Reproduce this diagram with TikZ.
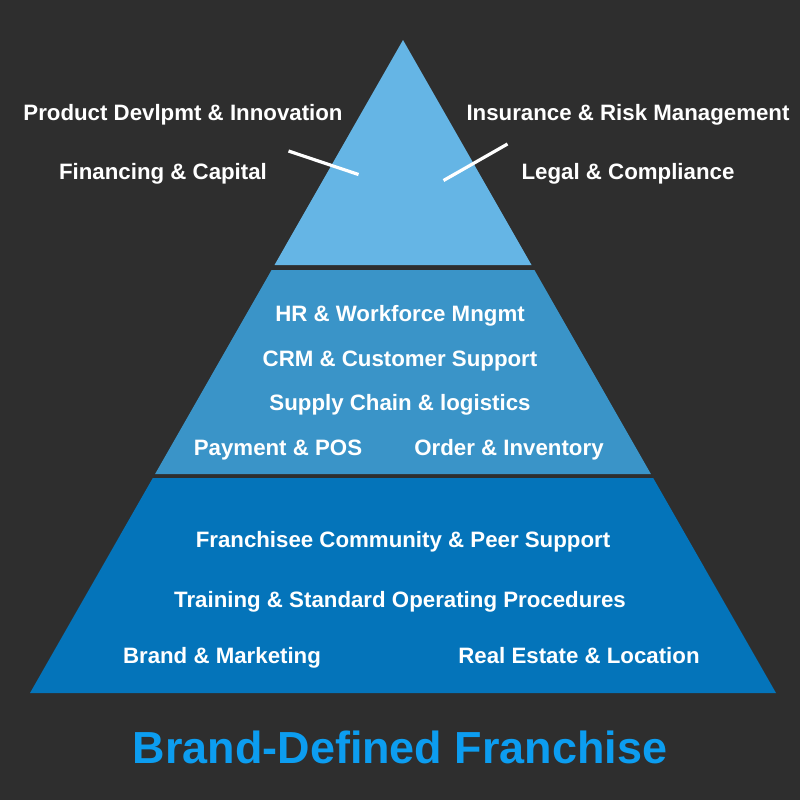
\documentclass[tikz,border=0pt]{standalone}
\usepackage{fontspec}
\setmainfont{Liberation Sans}

\definecolor{bgdark}{HTML}{2E2E2E}
\definecolor{tiertop}{HTML}{65B5E5}
\definecolor{tiermid}{HTML}{3A94C8}
\definecolor{tierlow}{HTML}{0474BA}
\definecolor{titleblue}{HTML}{0C9DF0}

\tikzset{
  lbl/.style={text=white, font=\fontsize{16.7}{20}\selectfont\bfseries,
    inner sep=0pt, text height=12pt, text depth=0pt},
  ttl/.style={text=titleblue, font=\fontsize{33.7}{40}\selectfont\bfseries,
    inner sep=0pt, text height=24.1pt, text depth=0pt},
  tick/.style={draw=white, line width=2.4pt}
}

\begin{document}
\begin{tikzpicture}[x=0.75pt,y=-0.75pt]

\fill[bgdark] (0,0) rectangle (800,800);

% pyramid tiers
\fill[tiertop] (403,40) -- (531.5,265) -- (274.5,265) -- cycle;
\fill[tiermid] (271.6,270) -- (534.4,270) -- (650.9,474) -- (155.1,474) -- cycle;
\fill[tierlow] (152.8,478) -- (653.2,478) -- (776,693) -- (30,693) -- cycle;

% top tier
\node[lbl] (prod) at (183,112) {Product Devlpmt \& Innovation};
\node[lbl] (fin)  at (163,171) {Financing \& Capital};
\node[lbl] (ins)  at (628,112) {Insurance \& Risk Management};
\node[lbl] (legal) at (628,171) {Legal \& Compliance};

\coordinate (l1) at (288.5,151);
\coordinate (l2) at (358.5,174.5);
\coordinate (r1) at (507.5,144);
\coordinate (r2) at (443.5,180.5);
\draw[tick] (l1) -- (l2);
\draw[tick] (r1) -- (r2);

% middle tier
\node[lbl] (hr)  at (400,313) {HR \& Workforce Mngmt};
\node[lbl] (crm) at (400,358) {CRM \& Customer Support};
\node[lbl] (sup) at (400,402) {Supply Chain \& logistics};
\node[lbl] (pay) at (278,447) {Payment \& POS};
\node[lbl] (ord) at (509,447) {Order \& Inventory};

% bottom tier
\node[lbl] (comm)  at (403,539) {Franchisee Community \& Peer Support};
\node[lbl] (train) at (400,599) {Training \& Standard Operating Procedures};
\node[lbl] (brand) at (222,655) {Brand \& Marketing};
\node[lbl] (real)  at (579,655) {Real Estate \& Location};

\node[ttl] (title) at (400,747) {Brand-Defined Franchise};

\end{tikzpicture}
\end{document}
